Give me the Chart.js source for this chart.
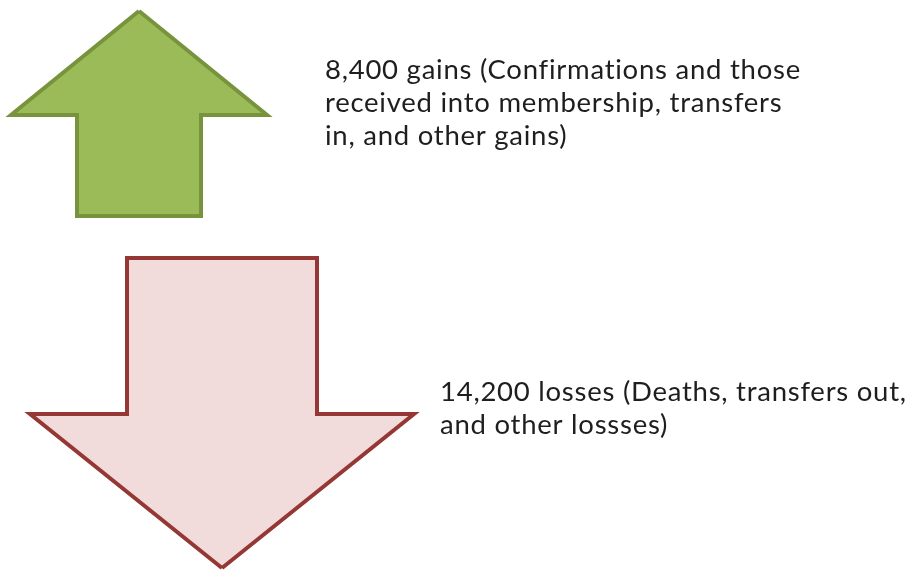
<!DOCTYPE html>
<html>
<head>
<meta charset="utf-8">
<script src="https://cdn.jsdelivr.net/npm/chart.js@4"></script>
<style>
  html, body { margin: 0; padding: 0; background: #fff; }
  #wrap { width: 910px; height: 572px; }
</style>
</head>
<body>
<div id="wrap"><canvas id="flowChart"></canvas></div>
<script>
// membership change, one arrow per category
const categories = ['gains', 'losses'];
const values = [8400, 14200];
const notes = [
    ['Confirmations and those', 'received into membership, transfers', 'in, and other gains)'],
    ['Deaths, transfers out,', 'and other lossses)']
];

// arrow geometry in the chart's own units (x: 0-910, y: 0-572, top down)
const arrows = [
    { dir: 'up',   cx: 139, tail: 216, tip: 11,  neck: 115, shaft: 62, head: 128,
      fill: '#9bbb59', stroke: '#77933c', textX: 325, textY: 79 },
    { dir: 'down', cx: 222, tail: 258, tip: 568, neck: 414, shaft: 95, head: 192,
      fill: '#f2dcdb', stroke: '#953735', textX: 440, textY: 401 }
];

function arrowPoints(a) {
    return [
        { x: a.cx, y: a.tip },
        { x: a.cx + a.head, y: a.neck },
        { x: a.cx + a.shaft, y: a.neck },
        { x: a.cx + a.shaft, y: a.tail },
        { x: a.cx - a.shaft, y: a.tail },
        { x: a.cx - a.shaft, y: a.neck },
        { x: a.cx - a.head, y: a.neck },
        { x: a.cx, y: a.tip }
    ];
}

const labelLines = categories.map((c, i) => {
    const first = values[i].toLocaleString('en-US') + ' ' + c + ' (' + notes[i][0];
    return [first].concat(notes[i].slice(1));
});

const labelPlugin = {
    id: 'arrowLabels',
    afterDatasetsDraw(chart) {
        const { ctx, scales } = chart;
        ctx.save();
        ctx.fillStyle = '#1e1e1e';
        ctx.font = '27.5px Lato, "Open Sans", sans-serif';
        ctx.letterSpacing = '0.75px';
        ctx.textBaseline = 'alphabetic';
        arrows.forEach((a, i) => {
            labelLines[i].forEach((line, j) => {
                ctx.fillText(line, scales.x.getPixelForValue(a.textX),
                    scales.y.getPixelForValue(a.textY + j * 33));
            });
        });
        ctx.restore();
    }
};

const ctx = document.getElementById('flowChart').getContext('2d');
const flowChart = new Chart(ctx, {
    type: 'scatter',
    data: {
        datasets: arrows.map((a, i) => ({
            label: categories[i],
            data: arrowPoints(a),
            showLine: true,
            fill: 'shape',
            backgroundColor: a.fill,
            borderColor: a.stroke,
            borderWidth: 4,
            borderJoinStyle: 'miter',
            pointRadius: 0,
            tension: 0
        }))
    },
    options: {
        responsive: true,
        maintainAspectRatio: false,
        animation: false,
        layout: { padding: 0 },
        plugins: {
            legend: { display: false },
            tooltip: { enabled: false }
        },
        scales: {
            x: { type: 'linear', min: 0, max: 910, display: false },
            y: { type: 'linear', min: 0, max: 572, reverse: true, display: false }
        }
    },
    plugins: [labelPlugin]
});
</script>
</body>
</html>
